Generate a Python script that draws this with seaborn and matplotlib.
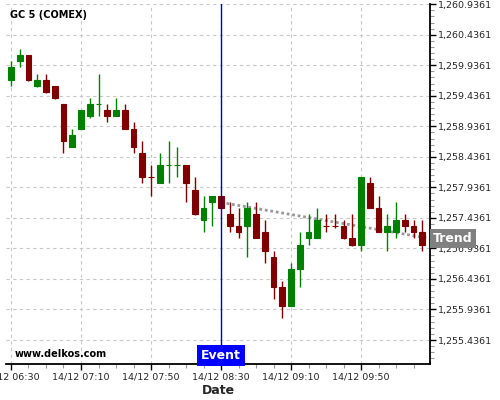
import numpy as np
import pandas as pd
import matplotlib
matplotlib.use("Agg")
import matplotlib.pyplot as plt
import matplotlib.dates as mdates
import matplotlib.transforms as mtransforms
from matplotlib.ticker import FixedLocator, MultipleLocator, FuncFormatter
import seaborn as sns

sns.set_theme(style="white")
plt.rcParams["font.family"] = ["DejaVu Sans"]

# 5-minute candles, 14/12 from 06:30
opens = [1259.7, 1260.0, 1260.1, 1259.6, 1259.7, 1259.6, 1259.3, 1258.6, 1258.9, 1259.1,
         1259.3, 1259.2, 1259.1, 1259.2, 1258.9, 1258.5, 1258.1, 1258.0, 1258.3, 1258.3,
         1258.3, 1257.9, 1257.4, 1257.7, 1257.8, 1257.5, 1257.3, 1257.3, 1257.5, 1257.2,
         1256.8, 1256.3, 1256.0, 1256.6, 1257.1, 1257.1, 1257.3, 1257.3, 1257.3, 1257.1,
         1257.0, 1258.0, 1257.6, 1257.2, 1257.2, 1257.4, 1257.3, 1257.2]
highs = [1260.0, 1260.2, 1260.1, 1259.8, 1259.8, 1259.6, 1259.3, 1258.9, 1259.2, 1259.4,
         1259.8, 1259.3, 1259.4, 1259.3, 1259.0, 1258.7, 1258.3, 1258.5, 1258.7, 1258.6,
         1258.3, 1258.1, 1257.8, 1257.8, 1257.8, 1257.7, 1257.6, 1257.7, 1257.7, 1257.4,
         1256.9, 1256.4, 1256.7, 1257.2, 1257.5, 1257.6, 1257.5, 1257.5, 1257.4, 1257.5,
         1258.1, 1258.1, 1257.8, 1257.5, 1257.7, 1257.5, 1257.4, 1257.4]
lows = [1259.6, 1259.9, 1259.68, 1259.58, 1259.49, 1259.39, 1258.5, 1258.6, 1258.9, 1259.08,
        1259.1, 1259.0, 1259.1, 1258.9, 1258.5, 1258.0, 1257.8, 1258.0, 1258.0, 1258.1,
        1257.7, 1257.48, 1257.2, 1257.3, 1257.6, 1257.2, 1257.1, 1256.8, 1257.1, 1256.7,
        1256.1, 1255.8, 1256.0, 1256.3, 1257.0, 1257.1, 1257.2, 1257.27, 1257.09, 1256.98,
        1256.9, 1257.6, 1257.2, 1256.9, 1257.1, 1257.2, 1257.1, 1256.9]
closes = [1259.9, 1260.1, 1259.7, 1259.7, 1259.5, 1259.4, 1258.7, 1258.8, 1259.2, 1259.3,
          1259.3, 1259.1, 1259.2, 1258.9, 1258.6, 1258.1, 1258.1, 1258.3, 1258.3, 1258.3,
          1258.0, 1257.5, 1257.6, 1257.8, 1257.6, 1257.3, 1257.2, 1257.6, 1257.1, 1256.9,
          1256.3, 1256.0, 1256.6, 1257.0, 1257.2, 1257.4, 1257.3, 1257.3, 1257.1, 1257.0,
          1258.1, 1257.6, 1257.2, 1257.3, 1257.4, 1257.3, 1257.2, 1257.0]
bullish = [1, 1, 0, 1, 0, 0, 0, 1, 1, 1, 1, 0, 1, 0, 0, 0, 0, 1, 1, 1, 0, 0, 1, 1,
           0, 0, 0, 1, 0, 0, 0, 0, 1, 1, 1, 1, 0, 0, 0, 0, 1, 0, 0, 1, 1, 0, 0, 0]

event_time = "2015-12-14 08:30"
trend_times = ["2015-12-14 08:30", "2015-12-14 10:29"]
trend_values = [1257.69, 1257.10]
x_tick_times = ["06:30", "07:10", "07:50", "08:30", "09:10", "09:50"]

times = pd.date_range("2015-12-14 06:30", periods=len(opens), freq="5min")
x = mdates.date2num(times.to_pydatetime())
o = np.array(opens)
c = np.array(closes)
colors = ["#008000" if b else "#800000" for b in bullish]

fig = plt.figure(figsize=(5, 4), dpi=100)
ax = fig.add_axes([0.012, 0.09, 0.848, 0.9])

# trend line (under candles)
tx = mdates.date2num(pd.to_datetime(trend_times).to_pydatetime())
sns.lineplot(x=tx, y=trend_values, ax=ax, color="#999999", linewidth=2,
             linestyle=(0, (1, 1)), zorder=1)

ax.vlines(x, lows, highs, colors=colors, linewidth=1, zorder=2)
ax.bar(x, np.abs(c - o), bottom=np.minimum(o, c), width=3.3 / 1440,
       color=colors, edgecolor=colors, linewidth=0.8, zorder=3)

ex = mdates.date2num(pd.Timestamp(event_time).to_pydatetime())
ax.axvline(ex, color="#0000cc", linewidth=1, zorder=4)

ax.set_xlim(x[0] - 2.85 / 1440, x[0] + 239.4 / 1440)
ax.set_ylim(1255.043, 1260.94)

# ticks
major_x = mdates.date2num(pd.to_datetime(["2015-12-14 " + t for t in x_tick_times]).to_pydatetime())
ax.xaxis.set_major_locator(FixedLocator(major_x))
ax.xaxis.set_minor_locator(MultipleLocator(10 / 1440))
ax.xaxis.set_major_formatter(mdates.DateFormatter("%d/%m %H:%M"))
ax.yaxis.set_major_locator(FixedLocator(1255.4361 + 0.5 * np.arange(12)))
ax.yaxis.set_minor_locator(FixedLocator(1255.0361 + 0.1 * np.arange(60)))
ax.yaxis.set_major_formatter(FuncFormatter(lambda v, p: f"{v:,.4f}"))
ax.yaxis.tick_right()
ax.tick_params(axis="both", which="major", length=4, width=1, color="black",
               labelsize=6.8, pad=2, direction="out")
ax.tick_params(axis="both", which="minor", length=3, width=0.8, color="#999999",
               direction="out")
ax.tick_params(axis="x", which="both", bottom=True)
ax.tick_params(axis="y", which="both", right=True, left=False)

ax.grid(True, which="major", color="#c8c8c8", linestyle=(0, (3, 3)), linewidth=0.8)
ax.set_axisbelow(True)

for side in ["left", "top"]:
    ax.spines[side].set_visible(False)
for side in ["bottom", "right"]:
    ax.spines[side].set_color("black")
    ax.spines[side].set_linewidth(1.3)

ax.set_xlabel("Date", fontsize=9, fontweight="bold", labelpad=2)
ax.set_ylabel("")

ax.text(0.009, 0.97, "GC 5 (COMEX)", transform=ax.transAxes, fontsize=7,
        fontweight="bold", ha="left", va="center", color="black")
ax.text(0.021, 0.028, "www.delkos.com", transform=ax.transAxes, fontsize=7,
        fontweight="bold", ha="left", va="center", color="black")

trans_ev = mtransforms.blended_transform_factory(ax.transData, ax.transAxes)
ax.text(ex, 0.023, "Event", transform=trans_ev, ha="center", va="center",
        fontsize=9, fontweight="bold", color="white", zorder=6,
        bbox=dict(boxstyle="square,pad=0.3", facecolor="#0000ff", edgecolor="none"))

trans_tr = mtransforms.blended_transform_factory(ax.transAxes, ax.transData)
ax.text(1.007, trend_values[-1], "Trend", transform=trans_tr, ha="left", va="center",
        fontsize=9, fontweight="bold", color="white", zorder=6, clip_on=False,
        bbox=dict(boxstyle="square,pad=0.25", facecolor="#808080", edgecolor="none"))

fig.savefig("out.png", dpi=100)
